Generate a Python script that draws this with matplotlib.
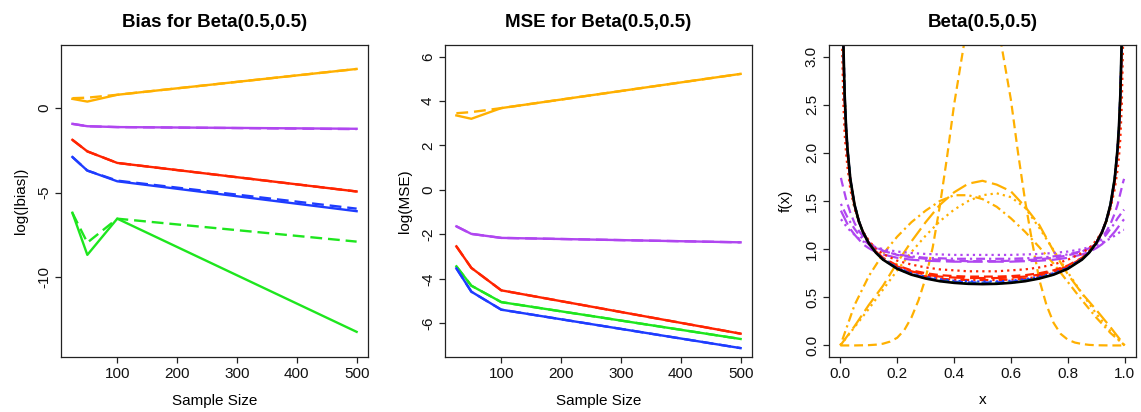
import matplotlib
matplotlib.use('Agg')
import matplotlib.pyplot as plt

plt.rcParams['font.family'] = ['Liberation Sans', 'DejaVu Sans']

# ---------------- data ----------------
sample_sizes = [25, 50, 100, 500]

# log(|bias|): solid and dashed variants
bias_orange = [0.51, 0.35, 0.75, 2.27]
bias_orange_d = [0.55, 0.58, 0.75, 2.27]
bias_purple = [-0.96, -1.10, -1.15, -1.25]
bias_purple_d = [-0.96, -1.10, -1.15, -1.27]
bias_red = [-1.90, -2.58, -3.26, -4.94]
bias_red_d = [-1.90, -2.58, -3.26, -4.94]
bias_blue = [-2.91, -3.71, -4.34, -6.10]
bias_blue_d = [-2.91, -3.71, -4.30, -5.95]
bias_green = [-6.19, -8.67, -6.54, -13.20]
bias_green_d = [-6.20, -7.95, -6.54, -7.89]

# log(MSE)
mse_orange = [3.35, 3.20, 3.68, 5.22]
mse_orange_d = [3.45, 3.50, 3.68, 5.22]
mse_purple = [-1.64, -1.98, -2.16, -2.36]
mse_red = [-2.54, -3.51, -4.52, -6.47]
mse_green = [-3.44, -4.31, -5.05, -6.71]
mse_blue = [-3.53, -4.58, -5.39, -7.12]

# density panel: U-shaped estimates on a common grid
x_u = [0.002, 0.005, 0.01, 0.015, 0.02, 0.025, 0.035, 0.05, 0.065, 0.08, 0.1, 0.125,
       0.15, 0.2, 0.25, 0.3, 0.35, 0.4, 0.45, 0.5, 0.55, 0.6, 0.65, 0.7, 0.75, 0.8,
       0.85, 0.875, 0.9, 0.92, 0.935, 0.95, 0.965, 0.975, 0.98, 0.985, 0.99, 0.995, 0.998]

true_f = [7.13, 4.51, 3.20, 2.61, 2.27, 2.04, 1.73, 1.46, 1.29, 1.173, 1.061, 0.963,
          0.891, 0.796, 0.735, 0.695, 0.667, 0.650, 0.640, 0.637, 0.640, 0.650, 0.667, 0.695, 0.735, 0.796,
          0.891, 0.963, 1.061, 1.173, 1.29, 1.46, 1.73, 2.04, 2.27, 2.61, 3.20, 4.51, 7.13]

purple_dash = [1.74, 1.70, 1.64, 1.58, 1.52, 1.47, 1.38, 1.27, 1.19, 1.13, 1.07, 1.02,
               0.985, 0.94, 0.915, 0.90, 0.89, 0.88, 0.875, 0.875, 0.875, 0.88, 0.885, 0.895, 0.91, 0.935,
               0.975, 1.01, 1.06, 1.12, 1.18, 1.26, 1.37, 1.46, 1.52, 1.58, 1.64, 1.70, 1.73]
purple_dot = [1.31, 1.30, 1.28, 1.26, 1.24, 1.22, 1.19, 1.15, 1.11, 1.08, 1.05, 1.02,
              1.00, 0.975, 0.96, 0.95, 0.945, 0.94, 0.94, 0.94, 0.94, 0.94, 0.945, 0.95, 0.96, 0.975,
              1.00, 1.02, 1.04, 1.07, 1.09, 1.11, 1.14, 1.16, 1.17, 1.18, 1.19, 1.20, 1.20]
purple_dotdash = [1.47, 1.45, 1.42, 1.39, 1.36, 1.33, 1.28, 1.21, 1.15, 1.10, 1.05, 1.01,
                  0.98, 0.945, 0.925, 0.91, 0.905, 0.90, 0.90, 0.90, 0.90, 0.90, 0.905, 0.91, 0.925, 0.945,
                  0.98, 1.01, 1.05, 1.10, 1.15, 1.21, 1.27, 1.32, 1.34, 1.36, 1.38, 1.40, 1.41]
purple_long = [1.40, 1.38, 1.35, 1.32, 1.29, 1.26, 1.21, 1.15, 1.10, 1.05, 1.01, 0.97,
               0.945, 0.91, 0.89, 0.88, 0.875, 0.87, 0.87, 0.87, 0.87, 0.87, 0.875, 0.88, 0.89, 0.91,
               0.945, 0.97, 1.01, 1.05, 1.09, 1.13, 1.18, 1.22, 1.24, 1.26, 1.28, 1.30, 1.31]

red_dot = [4.2, 3.3, 2.55, 2.2, 2.0, 1.85, 1.62, 1.42, 1.28, 1.18, 1.09, 1.00,
           0.95, 0.88, 0.84, 0.81, 0.79, 0.78, 0.77, 0.77, 0.77, 0.78, 0.79, 0.81, 0.84, 0.89,
           0.96, 1.01, 1.09, 1.18, 1.28, 1.42, 1.62, 1.82, 1.95, 2.15, 2.5, 3.2, 4.0]
red_dash = [6.0, 4.2, 3.05, 2.52, 2.2, 2.0, 1.70, 1.45, 1.29, 1.18, 1.07, 0.98,
            0.91, 0.83, 0.78, 0.75, 0.73, 0.72, 0.715, 0.715, 0.715, 0.72, 0.73, 0.75, 0.78, 0.83,
            0.91, 0.98, 1.07, 1.18, 1.29, 1.45, 1.70, 2.0, 2.2, 2.52, 3.05, 4.2, 6.0]
red_long = [6.5, 4.35, 3.12, 2.56, 2.24, 2.02, 1.71, 1.45, 1.29, 1.175, 1.065, 0.975,
            0.905, 0.82, 0.77, 0.735, 0.715, 0.705, 0.70, 0.70, 0.70, 0.705, 0.715, 0.735, 0.77, 0.82,
            0.905, 0.975, 1.065, 1.175, 1.29, 1.45, 1.71, 2.02, 2.24, 2.56, 3.12, 4.35, 6.5]
red_dotdash = [6.8, 4.45, 3.16, 2.59, 2.25, 2.03, 1.72, 1.455, 1.29, 1.172, 1.062, 0.968,
               0.898, 0.808, 0.752, 0.716, 0.693, 0.683, 0.68, 0.68, 0.68, 0.683, 0.693, 0.716, 0.752, 0.808,
               0.898, 0.968, 1.062, 1.172, 1.29, 1.455, 1.72, 2.03, 2.25, 2.59, 3.16, 4.45, 6.8]

blue_dot = [7.0, 4.48, 3.19, 2.61, 2.27, 2.04, 1.73, 1.46, 1.29, 1.175, 1.065, 0.97,
            0.90, 0.808, 0.75, 0.712, 0.688, 0.672, 0.665, 0.663, 0.665, 0.672, 0.688, 0.712, 0.75, 0.808,
            0.90, 0.97, 1.065, 1.175, 1.29, 1.46, 1.73, 2.04, 2.27, 2.61, 3.19, 4.48, 7.0]
blue_dash = [7.05, 4.5, 3.2, 2.61, 2.27, 2.04, 1.73, 1.46, 1.29, 1.174, 1.063, 0.966,
             0.895, 0.802, 0.743, 0.704, 0.678, 0.662, 0.655, 0.653, 0.655, 0.662, 0.678, 0.704, 0.743, 0.802,
             0.895, 0.966, 1.063, 1.174, 1.29, 1.46, 1.73, 2.04, 2.27, 2.61, 3.2, 4.5, 7.05]

green_dot = [7.1, 4.5, 3.2, 2.61, 2.27, 2.04, 1.73, 1.46, 1.29, 1.173, 1.062, 0.964,
             0.892, 0.798, 0.737, 0.698, 0.670, 0.653, 0.644, 0.641, 0.644, 0.653, 0.670, 0.698, 0.737, 0.798,
             0.892, 0.964, 1.062, 1.173, 1.29, 1.46, 1.73, 2.04, 2.27, 2.61, 3.2, 4.5, 7.1]

# orange estimates (broad / peaked shapes)
x_o = [0.0, 0.05, 0.1, 0.15, 0.2, 0.25, 0.3, 0.35, 0.4, 0.45, 0.5,
       0.55, 0.6, 0.65, 0.7, 0.75, 0.8, 0.85, 0.9, 0.95, 1.0]
orange_long = [0.0, 0.20, 0.42, 0.62, 0.86, 1.08, 1.28, 1.46, 1.59, 1.68, 1.71,
               1.67, 1.60, 1.44, 1.25, 0.98, 0.74, 0.54, 0.37, 0.19, 0.0]
orange_dotdash = [0.0, 0.42, 0.72, 0.95, 1.13, 1.28, 1.40, 1.50, 1.56, 1.56, 1.52,
                  1.44, 1.32, 1.18, 1.02, 0.85, 0.66, 0.47, 0.29, 0.13, 0.0]
orange_dot = [0.0, 0.19, 0.38, 0.58, 0.78, 0.97, 1.14, 1.29, 1.41, 1.50, 1.56,
              1.58, 1.54, 1.43, 1.22, 0.99, 0.76, 0.54, 0.33, 0.15, 0.0]
x_peak = [0.0, 0.05, 0.1, 0.125, 0.15, 0.175, 0.2, 0.225, 0.25, 0.275, 0.3, 0.325, 0.35,
          0.375, 0.4, 0.45, 0.5, 0.55, 0.6, 0.625, 0.65, 0.675, 0.7, 0.725, 0.75, 0.775,
          0.8, 0.825, 0.85, 0.875, 0.9, 0.95, 1.0]
orange_peak = [0.0, 0.0, 0.003, 0.008, 0.018, 0.04, 0.08, 0.16, 0.29, 0.47, 0.70, 1.02, 1.45,
               1.95, 2.5, 3.4, 3.7, 3.4, 2.55, 2.0, 1.5, 1.07, 0.68, 0.42, 0.235, 0.12,
               0.06, 0.03, 0.015, 0.006, 0.002, 0.0, 0.0]

# ---------------- style ----------------
C_ORANGE = '#FFB000'
C_PURPLE = '#B046F0'
C_RED = '#FF2400'
C_BLUE = '#1E3CFF'
C_GREEN = '#1EE61E'

DASHED = (0, (4, 2.2))
DOTTED = (0, (1, 1.8))
DOTDASH = (0, (1, 1.8, 4, 1.8))
LONGDASH = (0, (7, 2.5))

W, H = 1141, 412
fig = plt.figure(figsize=(W / 100, H / 100), dpi=100)


def px_axes(l, r, t, b):
    return fig.add_axes([l / W, 1 - b / H, (r - l) / W, (b - t) / H])


def style_axes(ax, title, xlabel, ylabel):
    for s in ax.spines.values():
        s.set_linewidth(0.9)
        s.set_color('#222222')
    ax.tick_params(direction='out', length=4.3, width=0.9, labelsize=11,
                   color='#222222', labelcolor='#111111')
    ax.tick_params(axis='x', pad=3)
    ax.tick_params(axis='y', pad=8)
    for lbl in ax.get_yticklabels():
        lbl.set_rotation(90)
        lbl.set_va('center')
        lbl.set_ha('center')
    ax.set_title(title, fontsize=13.5, fontweight='bold', y=1 + (45 - 22.5) / 312,
                 va='center', pad=0)
    ax.set_xlabel(xlabel, fontsize=11, va='center')
    ax.xaxis.set_label_coords(0.5, -(400.5 - 357) / 312)
    ax.set_ylabel(ylabel, fontsize=11, va='center', ha='center')
    ax.yaxis.set_label_coords(-40 / 307, 0.5)


LW = 1.7

# ---- panel 1: bias ----
ax1 = px_axes(61, 368, 45, 357)
for ys, yd, c in [(bias_orange, bias_orange_d, C_ORANGE),
                  (bias_purple, bias_purple_d, C_PURPLE),
                  (bias_red, bias_red_d, C_RED),
                  (bias_blue, bias_blue_d, C_BLUE),
                  (bias_green, bias_green_d, C_GREEN)]:
    ax1.plot(sample_sizes, ys, color=c, lw=LW, solid_joinstyle='round')
    ax1.plot(sample_sizes, yd, color=c, lw=LW, linestyle=(0, (5, 2.5)))
ax1.set_xlim(6, 519)
ax1.set_ylim(-14.68, 3.68)
ax1.set_xticks([100, 200, 300, 400, 500])
ax1.set_yticks([0, -5, -10])
ax1.set_yticklabels(['0', '-5', '-10'])
style_axes(ax1, 'Bias for Beta(0.5,0.5)', 'Sample Size', 'log(|bias|)')

# ---- panel 2: MSE ----
ax2 = px_axes(445, 752, 45, 357)
for ys, yd, c in [(mse_orange, mse_orange_d, C_ORANGE),
                  (mse_purple, mse_purple, C_PURPLE),
                  (mse_red, mse_red, C_RED),
                  (mse_green, mse_green, C_GREEN),
                  (mse_blue, mse_blue, C_BLUE)]:
    ax2.plot(sample_sizes, ys, color=c, lw=LW, solid_joinstyle='round')
    ax2.plot(sample_sizes, yd, color=c, lw=LW, linestyle=(0, (5, 2.5)))
ax2.set_xlim(6, 519)
ax2.set_ylim(-7.52, 6.52)
ax2.set_xticks([100, 200, 300, 400, 500])
ax2.set_yticks([-6, -4, -2, 0, 2, 4, 6])
ax2.set_yticklabels(['-6', '-4', '-2', '0', '2', '4', '6'])
style_axes(ax2, 'MSE for Beta(0.5,0.5)', 'Sample Size', 'log(MSE)')

# ---- panel 3: densities ----
ax3 = px_axes(829, 1136, 45, 357)
LW3 = 1.6
ax3.plot(x_peak, orange_peak, color=C_ORANGE, lw=LW3, linestyle=DASHED)
ax3.plot(x_o, orange_long, color=C_ORANGE, lw=LW3, linestyle=LONGDASH)
ax3.plot(x_o, orange_dotdash, color=C_ORANGE, lw=LW3, linestyle=DOTDASH)
ax3.plot(x_o, orange_dot, color=C_ORANGE, lw=LW3, linestyle=DOTTED)
ax3.plot(x_u, purple_dash, color=C_PURPLE, lw=LW3, linestyle=DASHED)
ax3.plot(x_u, purple_dot, color=C_PURPLE, lw=LW3, linestyle=DOTTED)
ax3.plot(x_u, purple_dotdash, color=C_PURPLE, lw=LW3, linestyle=DOTDASH)
ax3.plot(x_u, purple_long, color=C_PURPLE, lw=LW3, linestyle=LONGDASH)
ax3.plot(x_u, red_dot, color=C_RED, lw=LW3, linestyle=DOTTED)
ax3.plot(x_u, red_dash, color=C_RED, lw=LW3, linestyle=DASHED)
ax3.plot(x_u, red_long, color=C_RED, lw=LW3, linestyle=LONGDASH)
ax3.plot(x_u, red_dotdash, color=C_RED, lw=LW3, linestyle=DOTDASH)
ax3.plot(x_u, blue_dot, color=C_BLUE, lw=LW3, linestyle=DOTTED)
ax3.plot(x_u, blue_dash, color=C_BLUE, lw=LW3, linestyle=DASHED)
ax3.plot(x_u, green_dot, color=C_GREEN, lw=LW3, linestyle=DOTTED)
ax3.plot(x_u, true_f, color='black', lw=1.9)
ax3.set_xlim(-0.04, 1.04)
ax3.set_ylim(-0.12, 3.12)
ax3.set_xticks([0, 0.2, 0.4, 0.6, 0.8, 1.0])
ax3.set_xticklabels(['0.0', '0.2', '0.4', '0.6', '0.8', '1.0'])
ax3.set_yticks([0, 0.5, 1.0, 1.5, 2.0, 2.5, 3.0])
ax3.set_yticklabels(['0.0', '0.5', '1.0', '1.5', '2.0', '2.5', '3.0'])
style_axes(ax3, 'Beta(0.5,0.5)', 'x', 'f(x)')
ax3.yaxis.set_label_coords(-43 / 307, 0.5)

fig.savefig('out.png', dpi=100)
